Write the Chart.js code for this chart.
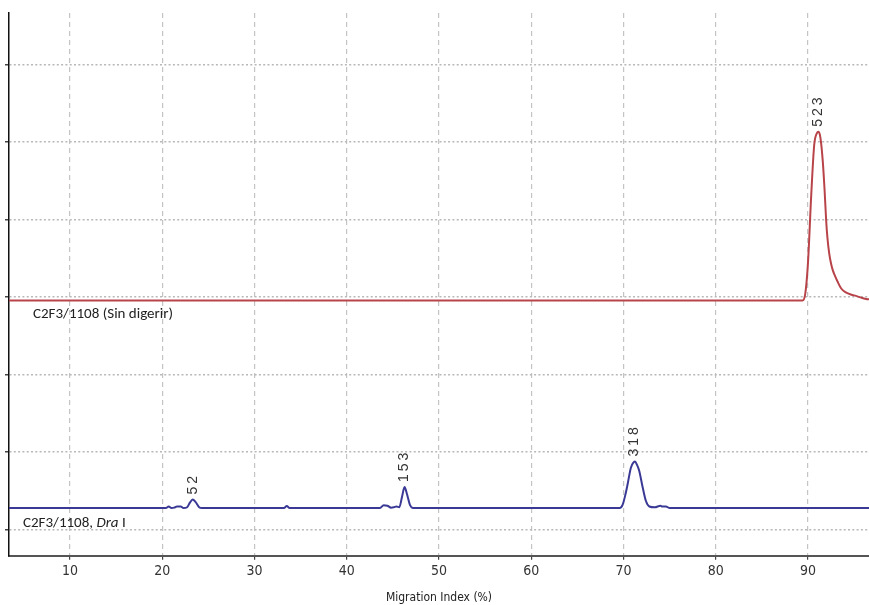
<!DOCTYPE html>
<html>
<head>
<meta charset="utf-8">
<script src="https://cdn.jsdelivr.net/npm/chart.js@4.4.1/dist/chart.umd.min.js"></script>
<style>
  html, body { margin: 0; padding: 0; background: #fff; }
  #wrap { width: 869px; height: 605px; }
</style>
</head>
<body>
<div id="wrap"><canvas id="chart" width="869" height="605"></canvas></div>
<script>
// electropherogram traces: x = migration index (%), y = signal (arbitrary units)
const xTicks = [10, 20, 30, 40, 50, 60, 70, 80, 90];
const yTicks = [0, 100, 200, 300, 400, 500, 600];

const undigestedName = 'C2F3/1108 (Sin digerir)';
const undigestedX = [3.39, 89.4, 89.7, 90.0, 90.35, 90.67, 90.95, 91.15, 91.35, 91.6, 91.8, 91.97, 92.1, 92.3, 92.5, 92.7, 92.9, 93.2, 93.6, 94.1, 94.7, 95.2, 95.8, 96.3, 96.61];
const undigestedY = [295.5, 295.5, 304, 345, 432, 496, 511, 513, 505, 475, 437, 398, 377, 356, 343, 334, 328, 320, 311, 306, 303, 301.5, 299, 297.5, 297];

const draName = 'C2F3/1108, ';
const draX = [3.39, 20.4, 20.7, 21.0, 21.3, 21.6, 22.0, 22.3, 22.7, 23.0, 23.3, 23.6, 24.0, 24.3,
  33.2, 33.5, 33.8, 43.6, 44.0, 44.4, 44.8, 45.1, 45.4, 45.7, 46.0, 46.27, 46.55, 46.85, 47.2,
  69.6, 69.9, 70.2, 70.45, 70.8, 71.1, 71.25, 71.45, 71.7, 72.07, 72.43, 72.8, 73.4, 74.0, 74.2, 74.6, 75.0, 96.61];
const draY = [28, 28, 30, 28, 28.5, 30, 30, 28, 29, 35, 39, 36, 29, 28,
  28, 30.5, 28, 28, 31.5, 31, 28.5, 29, 30, 29, 43, 55, 45, 32, 28,
  28, 32, 45, 59, 80, 87, 88, 84, 76, 55, 37, 30, 29, 31, 30, 30, 28, 28];

const peakLabels = ['52', '153', '318', '523'];
const peakX = [23.3, 46.27, 71.2, 91.15];
const peakY = [39, 55, 88, 513];

const toPoints = (xs, ys) => xs.map((x, i) => ({ x, y: ys[i] }));

const narrow = "'DejaVu Sans Condensed', 'Liberation Sans Narrow', 'DejaVu Sans', sans-serif";

const annotations = {
  id: 'annotations',
  afterDatasetsDraw(chart) {
    const { ctx, chartArea, scales: { x, y } } = chart;
    ctx.save();
    // peak size labels, rotated
    ctx.fillStyle = '#333';
    ctx.font = "14px 'Liberation Sans', Arial, sans-serif";
    ctx.letterSpacing = '3px';
    ctx.textAlign = 'left';
    ctx.textBaseline = 'middle';
    peakLabels.forEach((t, i) => {
      ctx.save();
      ctx.translate(x.getPixelForValue(peakX[i]), y.getPixelForValue(peakY[i]) - 5);
      ctx.rotate(-Math.PI / 2);
      ctx.fillText(t, 0, 0);
      ctx.restore();
    });
    ctx.letterSpacing = '0px';

    // trace names
    ctx.fillStyle = '#222';
    ctx.textBaseline = 'middle';
    const f = "Carlito, Lato, sans-serif";
    ctx.font = '15px ' + f;
    ctx.fillText(undigestedName, chartArea.left + 24, y.getPixelForValue(undigestedY[0]) + 14);
    let lx = chartArea.left + 14;
    const ly = y.getPixelForValue(draY[0]) + 15.5;
    ctx.fillText(draName, lx, ly);
    lx += ctx.measureText(draName).width;
    ctx.font = 'italic 15px ' + f;
    ctx.fillText('Dra', lx, ly);
    lx += ctx.measureText('Dra').width;
    ctx.font = '15px ' + f;
    ctx.fillText(' I', lx, ly);
    ctx.restore();
  }
};

new Chart(document.getElementById('chart'), {
  type: 'line',
  data: {
    datasets: [
      {
        label: undigestedName,
        data: toPoints(undigestedX, undigestedY),
        borderColor: '#b8444a',
        borderWidth: 2,
      },
      {
        label: 'C2F3/1108, Dra I',
        data: toPoints(draX, draY),
        borderColor: '#3a3a96',
        borderWidth: 2,
      }
    ]
  },
  options: {
    responsive: false,
    animation: false,
    layout: { padding: { left: 5, top: 13, right: 0, bottom: 0 } },
    elements: {
      point: { radius: 0, hoverRadius: 0 },
      line: { tension: 0.4, cubicInterpolationMode: 'monotone' }
    },
    plugins: {
      legend: { display: false },
      tooltip: { enabled: false }
    },
    scales: {
      x: {
        type: 'linear',
        min: 3.39,
        max: 96.61,
        afterBuildTicks: (axis) => { axis.ticks = xTicks.map(v => ({ value: v })); },
        grid: { color: '#c4c4c4', lineWidth: 1.2, tickLength: 4, tickColor: '#444' },
        border: { color: '#555', width: 2, dash: [5, 4] },
        ticks: {
          color: '#333',
          padding: 3,
          maxRotation: 0,
          font: { family: narrow, size: 14, weight: 'condensed' },
        },
        title: {
          display: true,
          text: 'Migration Index (%)',
          color: '#222',
          font: { family: narrow, size: 12, weight: 'condensed' },
          padding: { top: 8, bottom: 0 },
        }
      },
      y: {
        type: 'linear',
        min: -33.6,
        max: 666.2,
        afterBuildTicks: (axis) => { axis.ticks = yTicks.map(v => ({ value: v })); },
        grid: { color: '#b8b8b8', lineWidth: 1.5, tickLength: 4, tickColor: '#444' },
        border: { color: '#111', width: 1.5, dash: [2, 2.3] },
        ticks: { display: false }
      }
    }
  },
  plugins: [annotations]
});
</script>
</body>
</html>
